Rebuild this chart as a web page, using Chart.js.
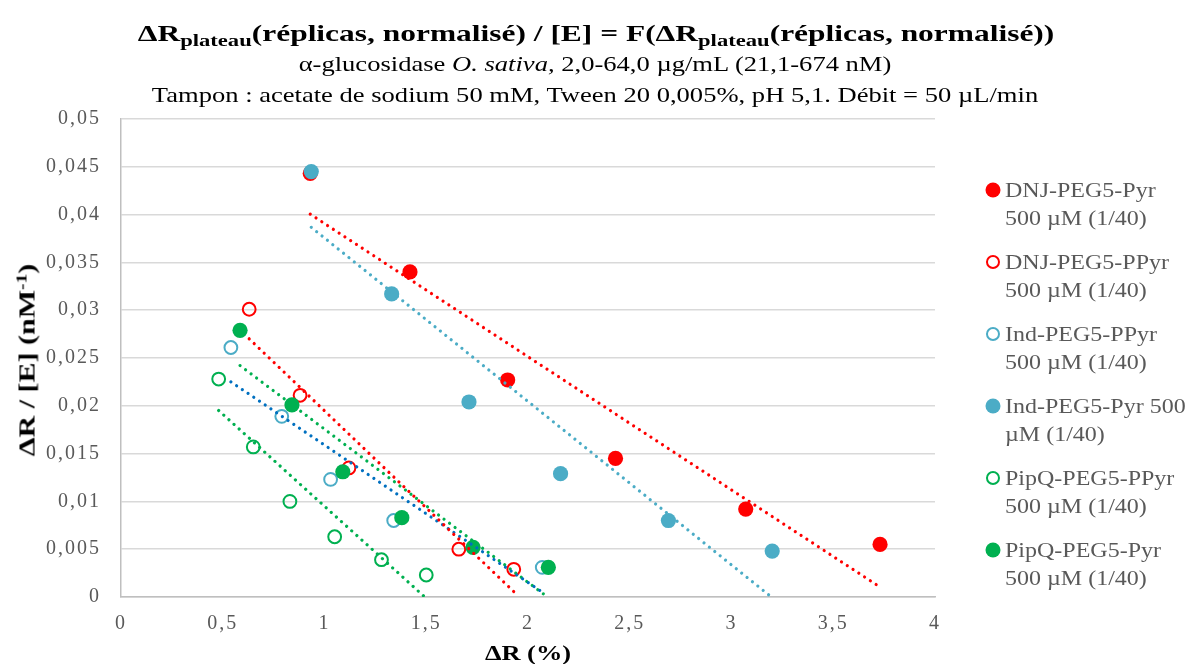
<!DOCTYPE html>
<html>
<head>
<meta charset="utf-8">
<script src="https://cdn.jsdelivr.net/npm/chart.js@4.4.1/dist/chart.umd.min.js"></script>
<style>
html,body{margin:0;padding:0;background:#ffffff;}
#wrap{position:relative;width:1189px;height:664px;overflow:hidden;font-family:"Liberation Serif","Times New Roman",serif;color:#000;}
#c{position:absolute;left:0;top:0;}
.t{position:absolute;white-space:nowrap;transform:translate(-50%,-50%) scaleX(1.2);line-height:1.2;}
.t1{font-weight:bold;font-size:24px;transform:translate(-50%,-50%) scaleX(1.31);}
.t1 sub{font-size:0.72em;vertical-align:-0.3em;line-height:0;}
.t2{font-size:21px;transform:translate(-50%,-50%) scaleX(1.265);}
.ytitle{position:absolute;white-space:nowrap;font-weight:bold;font-size:24px;transform:translate(-50%,-50%) rotate(-90deg) scaleX(1.25);}
.ytitle sup{font-size:0.65em;vertical-align:0.5em;line-height:0;}
.xtitle{font-weight:bold;font-size:22px;}
.lgtext{position:absolute;white-space:pre;font-size:20px;line-height:28px;color:#595959;transform-origin:left center;transform:translateY(-14px) scaleX(1.2);}
.mk{position:absolute;border-radius:50%;box-sizing:border-box;transform:translate(-50%,-50%);}
</style>
</head>
<body>
<div id="wrap">
<canvas id="c" width="1189" height="664"></canvas>
<div class="t t1" style="left:596px;top:33px;">ΔR<sub>plateau</sub>(réplicas, normalisé) / [E] = F(ΔR<sub>plateau</sub>(réplicas, normalisé))</div>
<div class="t t2" style="left:595px;top:65px;">α-glucosidase <i>O. sativa,</i> 2,0-64,0 µg/mL (21,1-674 nM)</div>
<div class="t t2" style="left:595px;top:96px;">Tampon : acetate de sodium 50 mM, Tween 20 0,005%, pH 5,1. Débit = 50 µL/min</div>
<div class="ytitle" style="left:27px;top:360px;">ΔR / [E] (nM<sup>-1</sup>)</div>
<div class="t xtitle" style="left:528px;top:653px;">ΔR (%)</div>
<div id="legend"></div>
</div>
<script>
// ---- data ----
const seriesNames = [
  'DNJ-PEG5-Pyr\n500 µM (1/40)',
  'DNJ-PEG5-PPyr\n500 µM (1/40)',
  'Ind-PEG5-PPyr\n500 µM (1/40)',
  'Ind-PEG5-Pyr 500\nµM (1/40)',
  'PipQ-PEG5-PPyr\n500 µM (1/40)',
  'PipQ-PEG5-Pyr\n500 µM (1/40)'
];
const dnjPyrX  = [0.93, 1.42, 1.90, 2.43, 3.07, 3.73];
const dnjPyrY  = [0.0443, 0.0340, 0.0227, 0.0145, 0.0092, 0.0055];
const dnjPPyrX = [0.63, 0.88, 1.12, 1.66, 1.93];
const dnjPPyrY = [0.0301, 0.0211, 0.0135, 0.0050, 0.0029];
const indPPyrX = [0.54, 0.79, 1.03, 1.34, 2.07];
const indPPyrY = [0.0261, 0.0189, 0.0123, 0.0080, 0.0031];
const indPyrX  = [0.935, 1.33, 1.71, 2.16, 2.69, 3.20];
const indPyrY  = [0.0445, 0.0317, 0.0204, 0.0129, 0.0080, 0.0048];
const pipPPyrX = [0.48, 0.65, 0.83, 1.05, 1.28, 1.50];
const pipPPyrY = [0.0228, 0.0157, 0.0100, 0.0063, 0.0039, 0.0023];
const pipPyrX  = [0.585, 0.84, 1.09, 1.38, 1.73, 2.10];
const pipPyrY  = [0.0279, 0.0201, 0.0131, 0.0083, 0.0052, 0.0031];

const xTickValues = [0, 0.5, 1, 1.5, 2, 2.5, 3, 3.5, 4];
const xTickLabels = ['0', '0,5', '1', '1,5', '2', '2,5', '3', '3,5', '4'];
const yTickValues = [0, 0.005, 0.01, 0.015, 0.02, 0.025, 0.03, 0.035, 0.04, 0.045, 0.05];
const yTickLabels = ['0', '0,005', '0,01', '0,015', '0,02', '0,025', '0,03', '0,035', '0,04', '0,045', '0,05'];

// ---- styles ----
const seriesX = [dnjPyrX, dnjPPyrX, indPPyrX, indPyrX, pipPPyrX, pipPyrX];
const seriesY = [dnjPyrY, dnjPPyrY, indPPyrY, indPyrY, pipPPyrY, pipPyrY];
const markerColors = ['#FF0000', '#FF0000', '#4BACC6', '#4BACC6', '#00B050', '#00B050'];
const markerFilled = [true, false, false, true, false, true];
const trendColors = ['#FF0000', '#FF0000', '#0070C0', '#4BACC6', '#00B050', '#00B050'];

function linearTrend(xs, ys) {
  const n = xs.length;
  const mx = xs.reduce((a, b) => a + b, 0) / n;
  const my = ys.reduce((a, b) => a + b, 0) / n;
  let sxy = 0, sxx = 0;
  for (let i = 0; i < n; i++) { sxy += (xs[i] - mx) * (ys[i] - my); sxx += (xs[i] - mx) ** 2; }
  const b = sxy / sxx, a = my - b * mx;
  const x0 = Math.min(...xs), x1 = Math.max(...xs);
  return [{x: x0, y: a + b * x0}, {x: x1, y: a + b * x1}];
}

const datasets = [];
seriesX.forEach((xs, i) => {
  datasets.push({
    label: seriesNames[i],
    data: xs.map((x, j) => ({x: x, y: seriesY[i][j]})),
    showLine: false,
    pointRadius: markerFilled[i] ? 7.6 : 6.4,
    pointHoverRadius: markerFilled[i] ? 7.6 : 6.4,
    pointBackgroundColor: markerFilled[i] ? markerColors[i] : 'rgba(255,255,255,0)',
    pointBorderColor: markerColors[i],
    pointBorderWidth: markerFilled[i] ? 0 : 2,
    order: 6 - i + 1
  });
});
seriesX.forEach((xs, i) => {
  datasets.push({
    label: 'trend ' + i,
    data: linearTrend(xs, seriesY[i]),
    showLine: true,
    pointRadius: 0,
    borderColor: trendColors[i],
    borderWidth: 3.2,
    borderDash: [0.001, 6.9],
    borderCapStyle: 'round',
    fill: false,
    order: 0
  });
});

const spacingPlugin = {
  id: 'spacing',
  beforeDraw(c) { if ('letterSpacing' in c.ctx) c.ctx.letterSpacing = '2px'; },
  afterDraw(c) { if ('letterSpacing' in c.ctx) c.ctx.letterSpacing = '0px'; }
};

const tickFont = {family: '"Liberation Serif", "Times New Roman", serif', size: 20};

new Chart(document.getElementById('c').getContext('2d'), {
  type: 'scatter',
  data: {datasets: datasets},
  options: {
    responsive: false,
    animation: false,
    layout: {padding: {top: 119, right: 254, left: 0, bottom: 0}},
    plugins: {legend: {display: false}, tooltip: {enabled: false}, title: {display: false}},
    scales: {
      x: {
        type: 'linear', min: 0, max: 4,
        afterBuildTicks: s => { s.ticks = xTickValues.map(v => ({value: v})); },
        afterFit: s => { s.height = 67; },
        ticks: {callback: (v, i) => xTickLabels[i], color: '#595959', font: tickFont, padding: 15, maxRotation: 0, autoSkip: false},
        grid: {display: false, drawTicks: false},
        border: {display: true, color: '#BFBFBF', width: 1.5}
      },
      y: {
        type: 'linear', min: 0, max: 0.05,
        afterBuildTicks: s => { s.ticks = yTickValues.map(v => ({value: v})); },
        afterFit: s => { s.width = 121; },
        ticks: {callback: (v, i) => yTickLabels[i], color: '#595959', font: tickFont, padding: 20, autoSkip: false},
        grid: {display: true, color: '#D9D9D9', lineWidth: 1.5, drawTicks: false},
        border: {display: true, color: '#BFBFBF', width: 1.5}
      }
    }
  },
  plugins: [spacingPlugin]
});

// ---- legend (HTML, wrapped labels) ----
const legend = document.getElementById('legend');
const legendTop = 190, legendStep = 72;
seriesNames.forEach((name, i) => {
  const y = legendTop + i * legendStep;
  const mk = document.createElement('div');
  mk.className = 'mk';
  const d = markerFilled[i] ? 15 : 14;
  mk.style.cssText = 'left:993px;top:' + y + 'px;width:' + d + 'px;height:' + d + 'px;' +
    (markerFilled[i] ? 'background:' + markerColors[i] + ';' : 'border:2px solid ' + markerColors[i] + ';');
  legend.appendChild(mk);
  const tx = document.createElement('div');
  tx.className = 'lgtext';
  tx.style.left = '1005px';
  tx.style.top = (y) + 'px';
  tx.textContent = name;
  legend.appendChild(tx);
});
</script>
</body>
</html>
